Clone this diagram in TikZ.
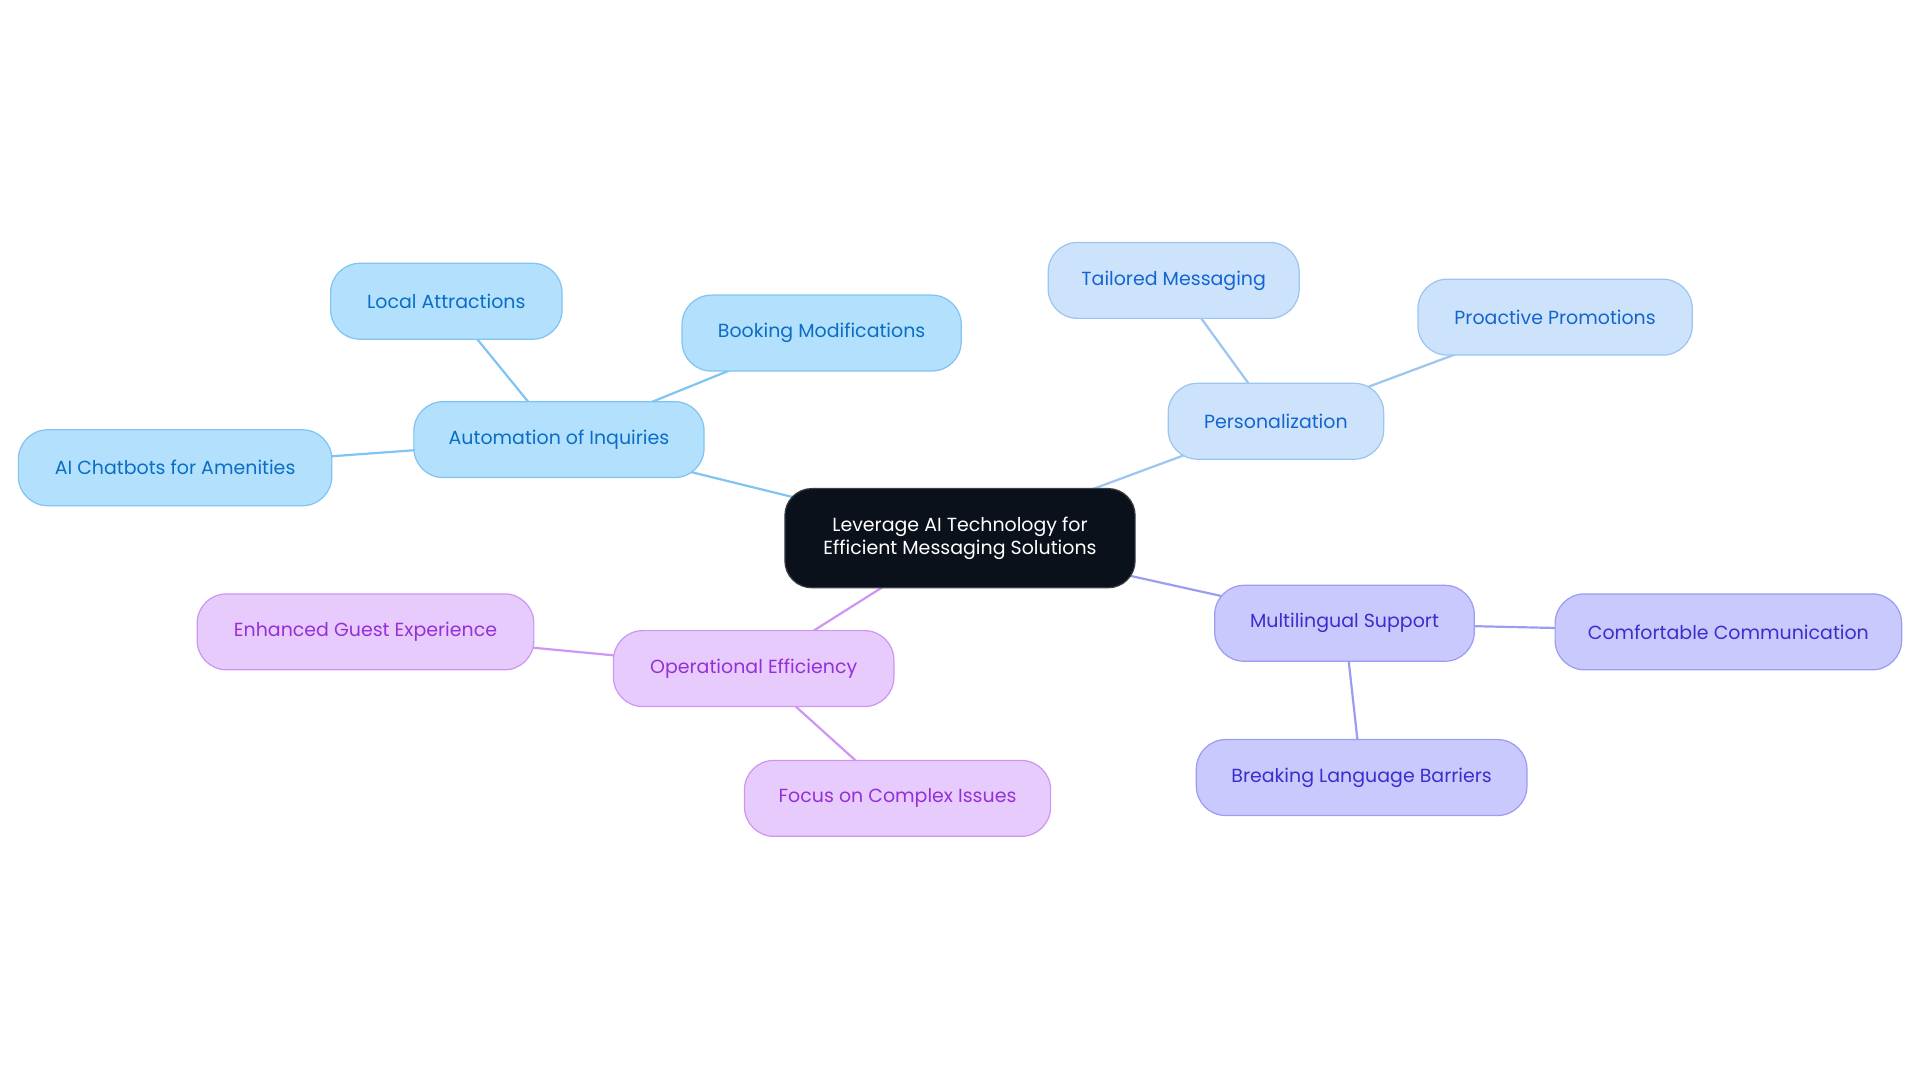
\documentclass[tikz,border=0pt]{standalone}
\usepackage{fontspec}
\setmainfont{Poppins}
\usepackage{xcolor}
\usetikzlibrary{shapes,positioning,backgrounds}

\definecolor{rootfill}{HTML}{0B111B}
\definecolor{rootline}{HTML}{3A3D42}
\definecolor{autofill}{HTML}{B3E0FD}
\definecolor{autoline}{HTML}{80C4F2}
\definecolor{autotext}{HTML}{0B6EC5}
\definecolor{persfill}{HTML}{CCE3FB}
\definecolor{persline}{HTML}{9CC5F2}
\definecolor{perstext}{HTML}{1565D0}
\definecolor{multfill}{HTML}{C9C9FD}
\definecolor{multline}{HTML}{9C9CF2}
\definecolor{multtext}{HTML}{3A2FCB}
\definecolor{opfill}{HTML}{E8CBFD}
\definecolor{opline}{HTML}{CF95F2}
\definecolor{optext}{HTML}{9530D8}

\begin{document}
\begin{tikzpicture}[
    x=1pt, y=-1pt,
    box/.style={rectangle, draw, rounded corners=24pt, minimum height=62pt, inner xsep=14pt, line width=1pt, font=\fontsize{15.5}{19}\selectfont},
    root/.style={box, fill=rootfill, draw=rootline, text=white, rounded corners=22pt, minimum width=286pt, minimum height=81pt, align=center, font=\fontsize{15.5}{19}\selectfont},
    auto/.style={box, fill=autofill, draw=autoline, text=autotext},
    pers/.style={box, fill=persfill, draw=persline, text=perstext},
    mult/.style={box, fill=multfill, draw=multline, text=multtext},
    oper/.style={box, fill=opfill, draw=opline, text=optext},
    link/.style={line width=1.8pt}
]
    \useasboundingbox (0,0) rectangle (1568,884);

    \node[root] (root) at (784,439.5) {Leverage AI Technology for\\Efficient Messaging Solutions};

    \node[auto, minimum width=237pt] (auto) at (456.5,359) {Automation of Inquiries};
    \node[auto, minimum width=189pt] (local) at (364.5,246) {Local Attractions};
    \node[auto, minimum width=228pt] (book) at (671,272) {Booking Modifications};
    \node[auto, minimum width=256pt] (chat) at (143,382) {AI Chatbots for Amenities};

    \node[pers, minimum width=176pt] (pers) at (1042,344) {Personalization};
    \node[pers, minimum width=205pt] (tail) at (958.5,229) {Tailored Messaging};
    \node[pers, minimum width=224pt] (promo) at (1270,259) {Proactive Promotions};

    \node[mult, minimum width=212pt] (mult) at (1098,509) {Multilingual Support};
    \node[mult, minimum width=283pt] (comf) at (1411.5,516) {Comfortable Communication};
    \node[mult, minimum width=270pt] (break) at (1112,635) {Breaking Language Barriers};

    \node[oper, minimum width=229pt] (oper) at (615.5,546) {Operational Efficiency};
    \node[oper, minimum width=275pt] (guest) at (298.5,516) {Enhanced Guest Experience};
    \node[oper, minimum width=250pt] (focus) at (733,652) {Focus on Complex Issues};

    \begin{scope}[on background layer]
    \draw[link, autoline] (root.center) -- (auto.center);
    \draw[link, autoline] (auto.center) -- (local.center);
    \draw[link, autoline] (auto.center) -- (book.center);
    \draw[link, autoline] (auto.center) -- (chat.center);
    \draw[link, persline] (root.center) -- (pers.center);
    \draw[link, persline] (pers.center) -- (tail.center);
    \draw[link, persline] (pers.center) -- (promo.center);
    \draw[link, multline] (root.center) -- (mult.center);
    \draw[link, multline] (mult.center) -- (comf.center);
    \draw[link, multline] (mult.center) -- (break.center);
    \draw[link, opline] (root.center) -- (oper.center);
    \draw[link, opline] (oper.center) -- (guest.center);
    \draw[link, opline] (oper.center) -- (focus.center);
    \end{scope}
\end{tikzpicture}
\end{document}
